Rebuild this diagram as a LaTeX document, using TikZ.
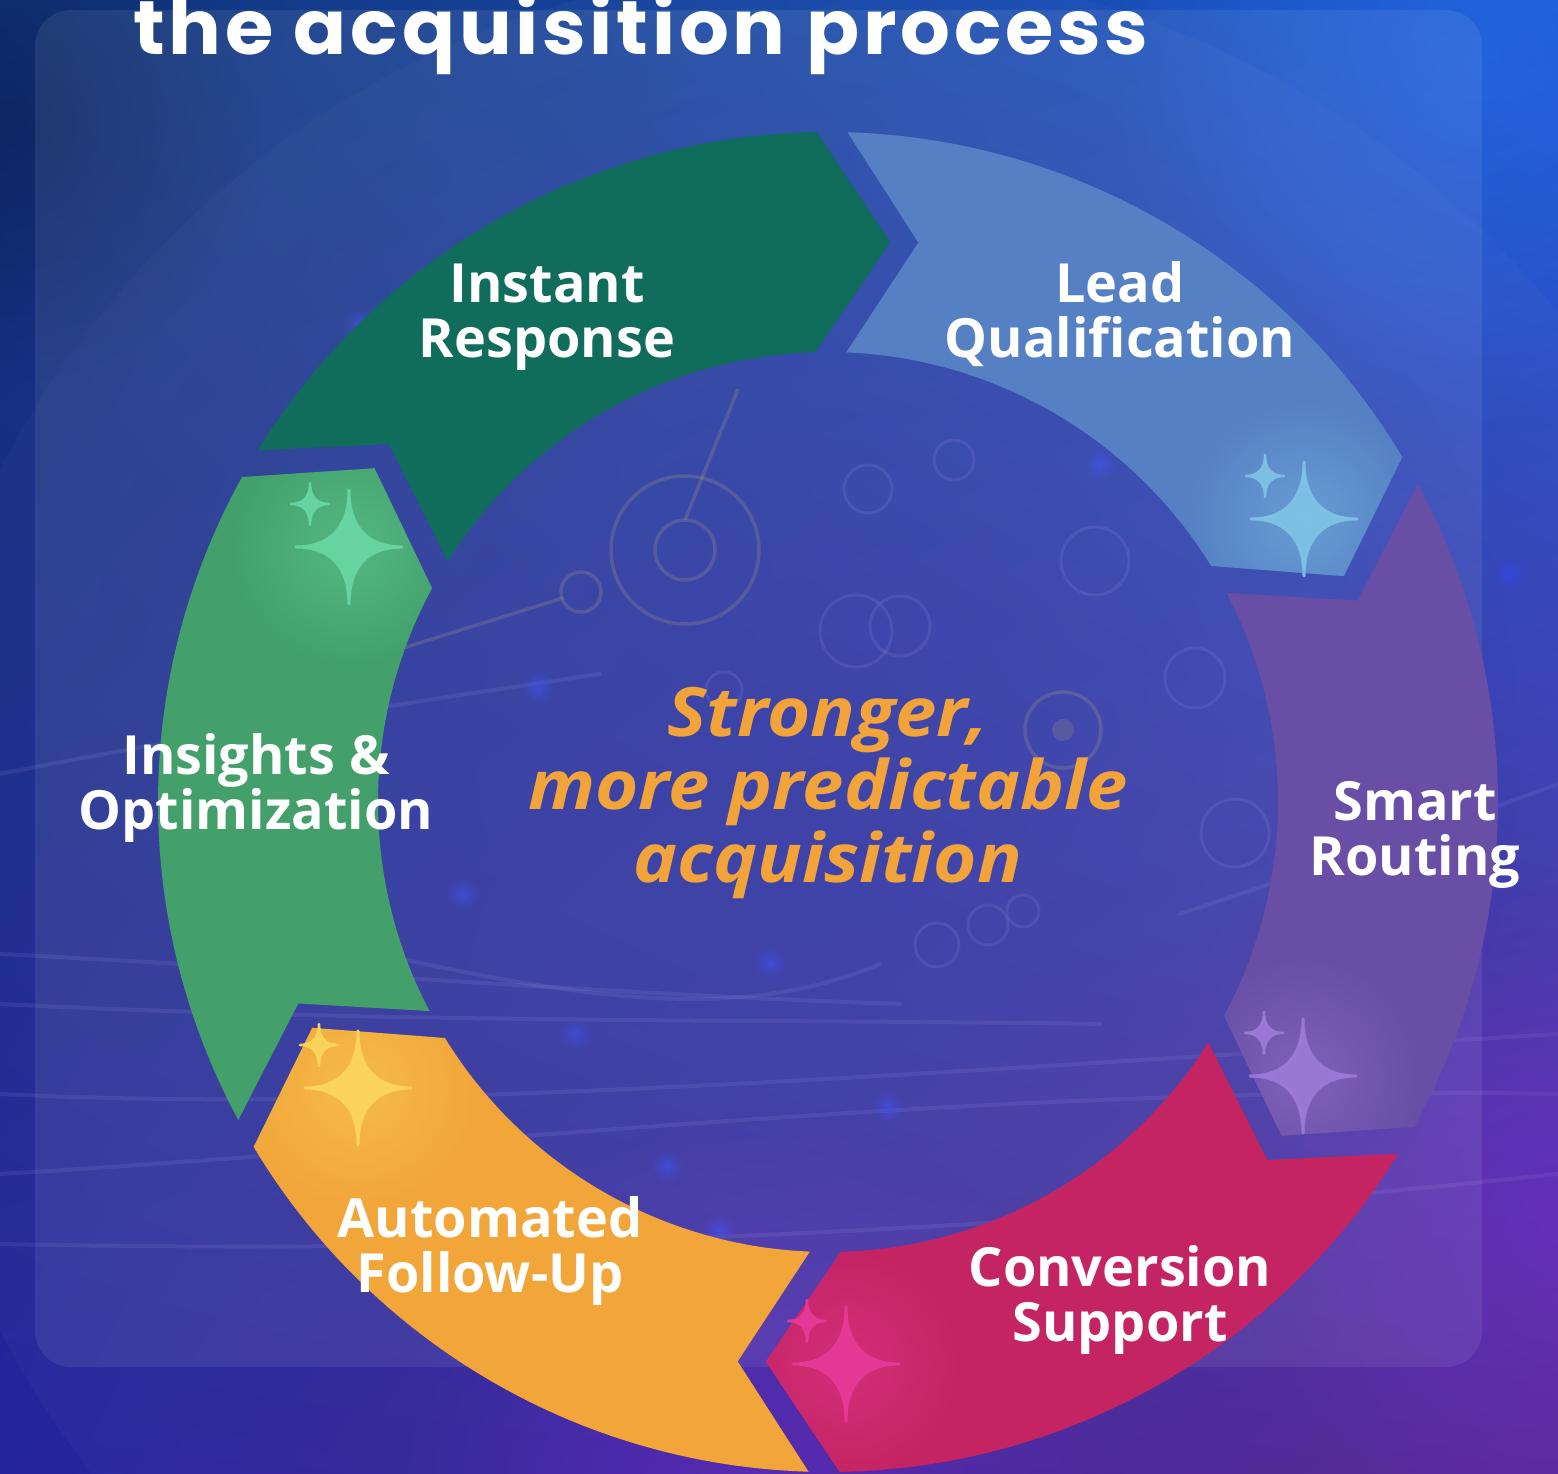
\documentclass[tikz,border=0pt]{standalone}
\usepackage{fontspec}
\setmainfont{Open Sans}
\newfontfamily\corefont[FakeStretch=1.09]{Open Sans}
\newfontfamily\titlefont[LetterSpace=5,FakeStretch=1.03]{Poppins}
\usetikzlibrary{calc,fadings,shadings}

% background
\definecolor{bgUL}{RGB}{16,52,120}
\definecolor{bgUR}{RGB}{28,88,208}
\definecolor{bgLL}{RGB}{36,36,156}
\definecolor{bgLR}{RGB}{88,38,150}
\definecolor{bgMid}{RGB}{40,46,160}
\definecolor{glowBlue}{RGB}{40,110,235}
\definecolor{dotBlue}{RGB}{50,70,240}
\definecolor{glowViolet}{RGB}{120,40,210}
\definecolor{ringtan}{RGB}{178,162,112}
\definecolor{ringlav}{RGB}{150,140,220}
\definecolor{streak}{RGB}{160,150,230}
\definecolor{navyEdge}{RGB}{8,24,70}
% cycle segments
\definecolor{segIR}{RGB}{16,108,91}
\definecolor{segLQ}{RGB}{85,128,196}
\definecolor{segSR}{RGB}{104,78,164}
\definecolor{segCS}{RGB}{196,36,98}
\definecolor{segAF}{RGB}{242,166,58}
\definecolor{segIO}{RGB}{67,160,106}
% sparkles
\definecolor{starLQ}{RGB}{128,194,230}
\definecolor{starSR}{RGB}{156,122,216}
\definecolor{starCS}{RGB}{230,58,152}
\definecolor{starAF}{RGB}{250,214,92}
\definecolor{starIO}{RGB}{104,214,164}
\definecolor{accent}{RGB}{242,164,58}

\tikzfading[name=softglow, inner color=transparent!0, outer color=transparent!100]

% ring segment between two gap angles: tail gap #1, head gap #2 (clockwise)
\newcommand\segpath[2]{($(C)+({#1-\dO}:670pt)$)
  arc[start angle={#1-\dO}, end angle={#2+\dO}, radius=670pt]
  -- ($(C)+(#2:560pt)+({#2-90}:59pt)$)
  -- ($(C)+({#2+\dI}:450pt)$)
  arc[start angle={#2+\dI}, end angle={#1-\dI}, radius=450pt]
  -- ($(C)+(#1:560pt)+({#1-90}:87pt)$) -- cycle}

\tikzset{
  sparkle/.pic={\path[pic actions] (0,1) .. controls (0,0.35) and (0.35,0) .. (1,0)
      .. controls (0.35,0) and (0,-0.35) .. (0,-1)
      .. controls (0,-0.35) and (-0.35,0) .. (-1,0)
      .. controls (-0.35,0) and (0,0.35) .. cycle;},
  steplabel/.style={text=white, inner sep=0pt, align=center,
      font=\fontsize{54}{55}\selectfont\bfseries},
  streakline/.style={streak, line width=4pt, opacity=0.13, line cap=round},
  ringline/.style={ringtan, line width=3.5pt, opacity=0.22},
  ringsoft/.style={ringlav, line width=3pt, opacity=0.16},
  bluedot/.style={dotBlue, opacity=0.6, path fading=softglow}
}

\newcommand\glowstar[4]{% segment tail, head, centre, colour
  \begin{scope}
    \clip \segpath{#1}{#2};
    \fill[#4, opacity=0.45, path fading=softglow] #3 circle[radius=120pt];
  \end{scope}
  \pic[fill=#4, draw=#4, line width=3pt, line join=round, opacity=0.92,
       xscale=53, yscale=57] at #3 {sparkle};
  \pic[fill=#4, draw=#4, line width=2.5pt, line join=round, opacity=0.92,
       xscale=19, yscale=21] at ($#3+(-39,43)$) {sparkle};
}

\begin{document}
\begin{tikzpicture}[x=1pt,y=1pt]
\useasboundingbox (0,0) rectangle (1558,1474);
\clip (0,0) rectangle (1558,1474);
\pgfmathsetmacro\dO{asin(15.5/670)}
\pgfmathsetmacro\dI{asin(15.5/450)}
\coordinate (C) at (828,672);

% ---- backdrop
\shade[upper left=bgUL, upper right=bgUR, lower left=bgLL, lower right=bgLR]
  (0,0) rectangle (1558,1474);
\fill[bgMid, opacity=0.6, path fading=softglow] (800,720) circle[radius=720pt];
\fill[glowBlue, opacity=0.55, path fading=softglow] (1480,1420) circle[radius=380pt];
\fill[glowViolet, opacity=0.45, path fading=softglow] (1560,260) circle[radius=330pt];
\fill[glowViolet, opacity=0.40, path fading=softglow] (760,0) circle[radius=360pt];
\fill[navyEdge, opacity=0.45, path fading=softglow] (0,1350) circle[radius=260pt];
\fill[white, opacity=0.025] (830,574) circle[radius=935pt];

% light streaks
\draw[streakline] (0,520) .. controls (300,505) and (600,480) .. (900,470);
\draw[streakline] (0,470) .. controls (400,450) and (800,455) .. (1100,450);
\draw[streakline] (0,380) .. controls (400,360) and (900,400) .. (1558,440);
\draw[streakline] (0,300) .. controls (500,330) and (1000,390) .. (1558,380);
\draw[streakline] (0,230) .. controls (500,220) and (1000,240) .. (1558,300);
\draw[streakline] (0,700) .. controls (200,740) and (400,770) .. (600,800);
\draw[streakline] (1180,560) .. controls (1330,610) and (1450,650) .. (1558,690);
\draw[streakline] (380,520) .. controls (600,470) and (750,455) .. (880,510);

% blurred blue lights
\foreach \p in {(538,787),(463,580),(770,511),(575,440),(888,368),(719,244),
                (667,308),(1100,1010),(360,1150),(1510,900)}
  \fill[bluedot] \p circle[radius=16pt];

% circuit rings
\draw[ringline] (685,924) circle[radius=74pt];
\draw[ringline] (685,924) circle[radius=30pt];
\draw[ringline] (685,954) -- (738,1085);
\draw[ringline] (581,882) circle[radius=20pt];
\draw[ringline] (397,824) -- (563,876);
\draw[ringsoft] (868,985) circle[radius=24pt];
\draw[ringsoft] (954,1014) circle[radius=20pt];
\draw[ringsoft] (856,843) circle[radius=36pt];
\draw[ringsoft] (900,848) circle[radius=30pt];
\draw[ringline] (1063,744) circle[radius=38pt];
\fill[ringtan, opacity=0.2] (1063,744) circle[radius=11pt];
\draw[ringsoft] (1095,913) circle[radius=34pt];
\draw[ringsoft] (1195,796) circle[radius=30pt];
\draw[ringsoft] (1235,641) circle[radius=34pt];
\draw[ringsoft] (937,529) circle[radius=22pt];
\draw[ringsoft] (988,549) circle[radius=20pt];
\draw[ringsoft] (1023,563) circle[radius=16pt];
\draw[ringsoft] (724,784) circle[radius=18pt];

% translucent panel
\fill[white, opacity=0.08, rounded corners=36pt] (35,107) rectangle (1482,1464);

% ---- title
\node[anchor=base west, text=white, inner sep=0pt,
      font=\titlefont\fontsize{76}{76}\selectfont\bfseries] (title)
  at (133,1419) {the acquisition process};

% ---- cycle segments
\fill[segIR] \segpath{149.66}{89.66};
\fill[segLQ] \segpath{89.66}{29.66};
\fill[segSR] \segpath{29.66}{-30.34};
\fill[segCS] \segpath{-30.34}{-90.34};
\fill[segAF] \segpath{-90.34}{-150.34};
\fill[segIO] \segpath{-150.34}{-210.34};

% ---- sparkles
\glowstar{89.66}{29.66}{(1304,955)}{starLQ}
\glowstar{29.66}{-30.34}{(1303,398)}{starSR}
\glowstar{-30.34}{-90.34}{(846,110)}{starCS}
\glowstar{-90.34}{-150.34}{(358,386)}{starAF}
\glowstar{-150.34}{-210.34}{(349,927)}{starIO}

% ---- step labels (base = baseline of the last line)
\node[steplabel, anchor=base] (lblIR) at (547,1116) {Instant\\Response};
\node[steplabel, anchor=base] (lblLQ) at (1120,1116) {Lead\\Qualification};
\node[steplabel, anchor=base] (lblSR) at (1415,598) {Smart\\Routing};
\node[steplabel, anchor=base] (lblCS) at (1120,132) {Conversion\\Support};
\node[steplabel, anchor=base] (lblAF) at (490,181) {Automated\\Follow-Up};
\node[steplabel, anchor=base] (lblIO) at (256,644) {Insights \&\\Optimization};

% ---- centre statement
\node[anchor=base, text=accent, inner sep=0pt, align=center,
      font=\corefont\fontsize{68}{73}\selectfont\bfseries\itshape] (core)
  at (828,591) {Stronger,\\more predictable\\acquisition};
\end{tikzpicture}
\end{document}
